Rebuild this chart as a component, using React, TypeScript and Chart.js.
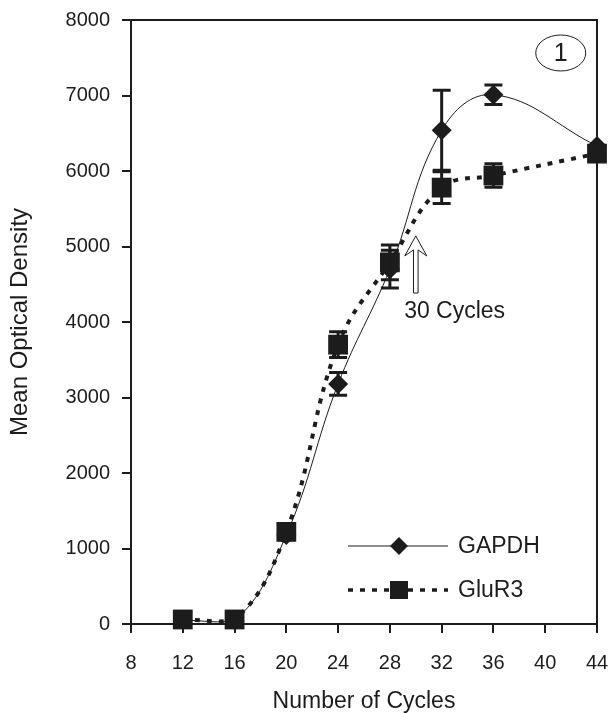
import React, { useEffect, useRef } from 'react';
import { Chart, registerables } from 'chart.js';

Chart.register(...registerables);

// ---- data ----
const cycles = [12, 16, 20, 24, 28, 32, 36, 44];
const gapdhValues = [50, 50, 1180, 3180, 4700, 6540, 7010, 6330];
const gapdhErrors = [0, 0, 0, 150, 250, 530, 130, 0];
const glur3Values = [60, 60, 1220, 3700, 4790, 5780, 5940, 6230];
const glur3Errors = [0, 0, 0, 170, 230, 210, 155, 0];
const seriesLabels = ['GAPDH', 'GluR3'];

const xMin = 8;
const xMax = 44;
const xStep = 4;
const yMin = 0;
const yMax = 8000;
const yStep = 1000;

const xTitle = 'Number of Cycles';
const yTitle = 'Mean Optical Density';

// annotation: arrow at 30 cycles
const arrowCycle = 30;
const arrowTipValue = 5140;
const arrowBaseValue = 4384;
const arrowLabel = '30 Cycles';
const arrowLabelPos = [29.1, 4140];

// panel label
const panelLabel = '1';
const panelLabelPos = [41.2, 7563];

const FONT = '"Liberation Sans", Arial, Helvetica, sans-serif';
const INK = '#1c1c1c';

const decorPlugin = {
  id: 'decor',
  afterDatasetsDraw(chart: any) {
    const { ctx, scales } = chart;
    const xs = scales.x;
    const ys = scales.y;
    const drawErr = (vals: number[], errs: number[]) => {
      ctx.save();
      ctx.strokeStyle = INK;
      ctx.lineWidth = 3;
      vals.forEach((v, i) => {
        const e = errs[i];
        if (!e) return;
        const px = xs.getPixelForValue(cycles[i]);
        const top = ys.getPixelForValue(v + e);
        const bot = ys.getPixelForValue(v - e);
        ctx.beginPath();
        ctx.moveTo(px, top);
        ctx.lineTo(px, bot);
        ctx.moveTo(px - 9, top);
        ctx.lineTo(px + 9, top);
        ctx.moveTo(px - 9, bot);
        ctx.lineTo(px + 9, bot);
        ctx.stroke();
      });
      ctx.restore();
    };
    drawErr(gapdhValues, gapdhErrors);
    drawErr(glur3Values, glur3Errors);
  },
  afterDraw(chart: any) {
    const { ctx, chartArea, scales } = chart;
    const xs = scales.x;
    const ys = scales.y;
    ctx.save();
    // frame (top + right)
    ctx.strokeStyle = INK;
    ctx.lineWidth = 2;
    ctx.beginPath();
    ctx.moveTo(chartArea.left, chartArea.top);
    ctx.lineTo(chartArea.right, chartArea.top);
    ctx.lineTo(chartArea.right, chartArea.bottom);
    ctx.stroke();

    // open arrow
    const ax = xs.getPixelForValue(arrowCycle);
    const tipY = ys.getPixelForValue(arrowTipValue);
    const baseY = ys.getPixelForValue(arrowBaseValue);
    const headH = 20;
    const headW = 11;
    const shaftW = 2.3;
    ctx.beginPath();
    ctx.moveTo(ax, tipY);
    ctx.lineTo(ax + headW, tipY + headH);
    ctx.lineTo(ax + shaftW, tipY + headH - 6);
    ctx.lineTo(ax + shaftW, baseY);
    ctx.lineTo(ax - shaftW, baseY);
    ctx.lineTo(ax - shaftW, tipY + headH - 6);
    ctx.lineTo(ax - headW, tipY + headH);
    ctx.closePath();
    ctx.fillStyle = '#fff';
    ctx.fill();
    ctx.lineWidth = 1;
    ctx.strokeStyle = INK;
    ctx.stroke();

    // arrow label
    ctx.fillStyle = INK;
    ctx.font = `23px ${FONT}`;
    ctx.textAlign = 'left';
    ctx.textBaseline = 'middle';
    ctx.fillText(arrowLabel, xs.getPixelForValue(arrowLabelPos[0]), ys.getPixelForValue(arrowLabelPos[1]));

    // panel label in ellipse
    const cx = xs.getPixelForValue(panelLabelPos[0]);
    const cy = ys.getPixelForValue(panelLabelPos[1]);
    ctx.beginPath();
    ctx.ellipse(cx, cy, 25, 18, 0, 0, Math.PI * 2);
    ctx.lineWidth = 1;
    ctx.stroke();
    ctx.textAlign = 'center';
    ctx.font = `25px ${FONT}`;
    ctx.fillText(panelLabel, cx, cy + 1);

    // legend
    const lx0 = 348;
    const lx1 = 448;
    const lmx = 399;
    const ly1 = 546;
    const ly2 = 590;
    ctx.strokeStyle = INK;
    ctx.fillStyle = INK;
    ctx.lineWidth = 1;
    ctx.beginPath();
    ctx.moveTo(lx0, ly1);
    ctx.lineTo(lx1, ly1);
    ctx.stroke();
    ctx.beginPath();
    ctx.moveTo(lmx - 9, ly1);
    ctx.lineTo(lmx, ly1 - 9);
    ctx.lineTo(lmx + 9, ly1);
    ctx.lineTo(lmx, ly1 + 9);
    ctx.closePath();
    ctx.fill();

    ctx.lineWidth = 3.5;
    ctx.setLineDash([5, 7]);
    ctx.beginPath();
    ctx.moveTo(lx0, ly2);
    ctx.lineTo(lmx - 9, ly2);
    ctx.moveTo(lmx + 9, ly2);
    ctx.lineTo(lx1, ly2);
    ctx.stroke();
    ctx.setLineDash([]);
    ctx.fillRect(lmx - 9, ly2 - 9, 18, 18);

    ctx.font = `23px ${FONT}`;
    ctx.textAlign = 'left';
    ctx.fillText(seriesLabels[0], 458, ly1 + 1);
    ctx.fillText(seriesLabels[1], 458, ly2 + 1);
    ctx.restore();
  },
};

export default function App() {
  const ref = useRef<HTMLCanvasElement | null>(null);
  useEffect(() => {
    const canvas = ref.current;
    if (!canvas) return;
    const chart = new Chart(canvas, {
      type: 'line',
      data: {
        datasets: [
          {
            label: seriesLabels[1],
            data: cycles.map((c, i) => ({ x: c, y: glur3Values[i] })),
            borderColor: INK,
            backgroundColor: INK,
            borderWidth: 4,
            borderDash: [5, 7],
            tension: 0.4,
            pointStyle: 'rect',
            pointRadius: 14,
            pointBorderWidth: 0,
            pointBackgroundColor: INK,
            clip: false,
            order: 0,
          },
          {
            label: seriesLabels[0],
            data: cycles.map((c, i) => ({ x: c, y: gapdhValues[i] })),
            borderColor: INK,
            backgroundColor: INK,
            borderWidth: 1,
            tension: 0.4,
            pointStyle: 'rectRot',
            pointRadius: 10,
            pointBorderWidth: 0,
            pointBackgroundColor: INK,
            clip: false,
            order: 1,
          },
        ],
      },
      options: {
        responsive: false,
        animation: false,
        devicePixelRatio: 1,
        layout: { autoPadding: false, padding: { top: 20, right: 11, bottom: 0, left: 0 } },
        plugins: {
          legend: { display: false },
          tooltip: { enabled: false },
        },
        scales: {
          x: {
            type: 'linear',
            min: xMin,
            max: xMax,
            afterFit: (s: any) => {
              s.height = 89;
              s.paddingLeft = 0;
              s.paddingRight = 0;
            },
            ticks: {
              stepSize: xStep,
              color: INK,
              padding: 18,
              font: { family: FONT, size: 20 },
              callback: (v: any) => String(v),
            },
            grid: { drawOnChartArea: false, drawTicks: true, tickLength: 9, color: INK, lineWidth: 2 },
            border: { display: true, color: INK, width: 2 },
            title: {
              display: true,
              text: xTitle,
              color: INK,
              font: { family: FONT, size: 23, lineHeight: 1 },
              padding: { top: 0, bottom: 0 },
            },
          },
          y: {
            type: 'linear',
            min: yMin,
            max: yMax,
            afterFit: (s: any) => {
              s.width = 131;
              s.paddingTop = 0;
              s.paddingBottom = 0;
            },
            ticks: {
              stepSize: yStep,
              color: INK,
              padding: 12,
              font: { family: FONT, size: 20 },
              callback: (v: any) => String(v),
            },
            grid: { drawOnChartArea: false, drawTicks: true, tickLength: 9, color: INK, lineWidth: 2 },
            border: { display: true, color: INK, width: 2 },
            title: {
              display: true,
              text: yTitle,
              color: INK,
              font: { family: FONT, size: 24, lineHeight: 1 },
              padding: { top: 8, bottom: 0 },
            },
          },
        },
      },
      plugins: [decorPlugin],
    } as any);
    return () => chart.destroy();
  }, []);
  return (
    <div style={{ position: 'absolute', left: 0, top: 0, width: 608, height: 713, background: '#fff' }}>
      <canvas ref={ref} width={608} height={713} style={{ display: 'block', width: 608, height: 713 }} />
    </div>
  );
}
